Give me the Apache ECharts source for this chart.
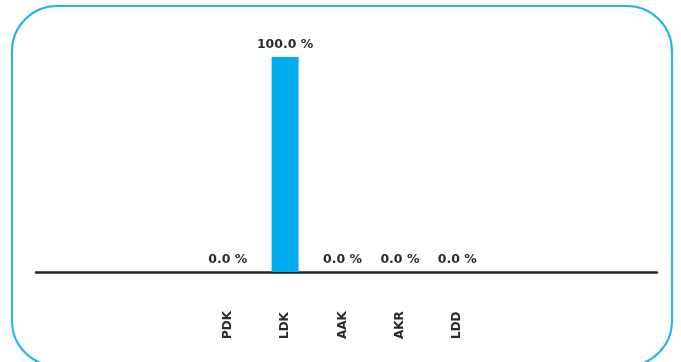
<!DOCTYPE html>
<html><head><meta charset="utf-8">
<script src="https://cdn.jsdelivr.net/npm/echarts@6/dist/echarts.min.js"></script>
<style>
html,body{margin:0;padding:0;background:#fff;overflow:hidden;}
#frame{position:absolute;left:11px;top:5px;width:658px;height:358px;border:2px solid #22b4ee;border-radius:46px;}
#chart{position:absolute;left:0;top:0;width:681px;height:362px;}
</style></head>
<body>
<div id="frame"></div>
<div id="chart"></div>
<script>
const categories = ["PDK", "LDK", "AAK", "AKR", "LDD"];
const values = [0.0, 100.0, 0.0, 0.0, 0.0];
const yMax = 100;

const font = "DejaVu Sans";
const chart = echarts.init(document.getElementById('chart'), null, {renderer: 'canvas'});
chart.setOption({
  animation: false,
  grid: [
    {left: 199, right: 195, top: 57, bottom: 90, containLabel: false},
    {left: 36, right: 24, top: 57, bottom: 90, containLabel: false}
  ],
  xAxis: [
    {
      type: 'category', gridIndex: 0, data: categories,
      axisLine: {show: false}, axisTick: {show: false},
      axisLabel: {
        rotate: 90, margin: 67, align: 'left', verticalAlign: 'middle',
        fontFamily: font, fontWeight: 'bold', fontSize: 12, color: '#2b2b2b'
      }
    },
    {
      type: 'value', gridIndex: 1, min: 0, max: 1,
      axisLine: {show: true, lineStyle: {color: '#262626', width: 2.5}},
      axisTick: {show: false}, axisLabel: {show: false}, splitLine: {show: false}
    }
  ],
  yAxis: [
    {type: 'value', gridIndex: 0, min: 0, max: yMax, show: false},
    {type: 'value', gridIndex: 1, min: 0, max: 1, show: false}
  ],
  series: [{
    type: 'bar', xAxisIndex: 0, yAxisIndex: 0,
    data: values, barWidth: 27,
    itemStyle: {color: '#00aeef'},
    label: {
      show: true, position: 'top', distance: 6,
      fontFamily: font, fontWeight: 'bold', fontSize: 12.5, color: '#2b2b2b',
      formatter: p => p.value.toFixed(1) + ' %'
    }
  }]
});
</script>
</body></html>
